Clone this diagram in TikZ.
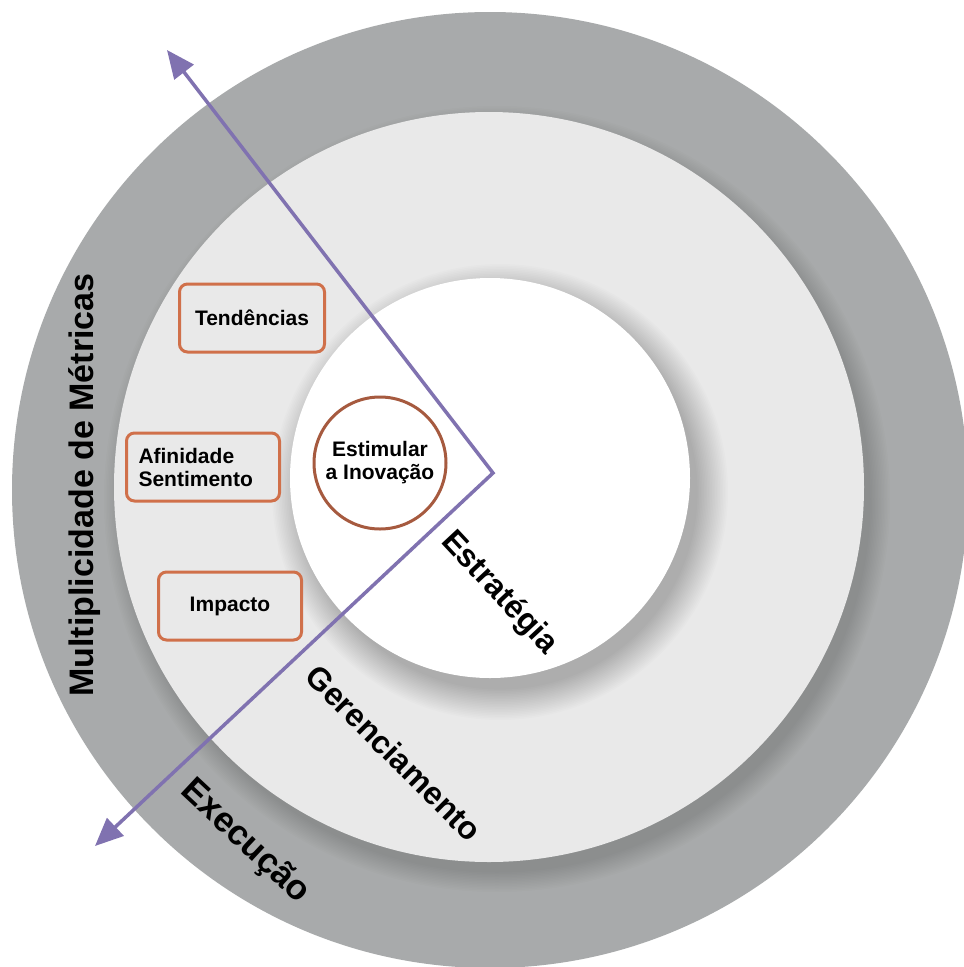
\documentclass[tikz,border=0pt]{standalone}
\usepackage{xcolor}
\usepackage{fontspec}
\setmainfont{Liberation Sans}
\usetikzlibrary{arrows.meta}
\definecolor{ringdark}{RGB}{168, 170, 171}
\definecolor{ringlight}{RGB}{233, 233, 233}
\definecolor{boxline}{RGB}{208, 112, 74}
\definecolor{coreline}{RGB}{166, 90, 63}
\definecolor{axis}{RGB}{128, 114, 176}

\begin{document}
\begin{tikzpicture}[x=1pt, y=-1pt,
        metric/.style={rectangle, draw=boxline, fill=ringlight, line width=3pt, rounded corners=8pt, minimum width=#1, minimum height=68pt, font=\fontsize{21}{23}\selectfont\bfseries},
        core/.style={circle, draw=coreline, fill=white, line width=3pt, minimum size=132pt, inner sep=0pt, align=center, font=\fontsize{21}{23}\selectfont\bfseries},
        ringlabel/.style={font=\fontsize{#1}{36}\selectfont\bfseries, inner sep=0pt}
    ]

        \useasboundingbox (0,0) rectangle (964,967);
        \fill[white] (0,0) rectangle (964,967);

        % rings with soft shadows
        \fill[ringdark] (490,490) circle (478);
        \foreach \k in {1,...,14}
            \fill[black, opacity=0.013] (497,499) circle (372+\k*1.5);
        \fill[ringlight] (489,487) circle (375);
        \foreach \k in {1,...,20}
            \fill[black, opacity=0.013] (500,492) circle (196+\k*1.6);
        \fill[white] (490,478) circle (200);

        \coordinate (up) at (167,50);
        \coordinate (tip) at (493,473);
        \coordinate (down) at (95,846);
        \draw[axis, line width=3.5pt, line join=miter, {Triangle[length=28pt, width=24pt]}-{Triangle[length=28pt, width=24pt]}] (up) -- (tip) -- (down);

        \node (tend) [metric=145pt] at (252,318) {Tendências};
        \node (afin) [metric=153pt, text width=129pt, inner xsep=12pt, align=left] at (203,467) {Afinidade\\Sentimento};
        \node (imp) [metric=143pt] at (230,606) {Impacto};
        \node (core) [core] at (380,463) {Estimular\\a Inovação};

        \node (metricas) [ringlabel=34, rotate=90] at (85,485) {Multiplicidade de Métricas};
        \node (estrat) [ringlabel=32, rotate=-47] at (499,593) {Estratégia};
        \node (gerenc) [ringlabel=32, rotate=-45] at (394,753) {Gerenciamento};
        \node (exec) [ringlabel=35, rotate=-43] at (245,842) {Execução};
    \end{tikzpicture}
\end{document}
